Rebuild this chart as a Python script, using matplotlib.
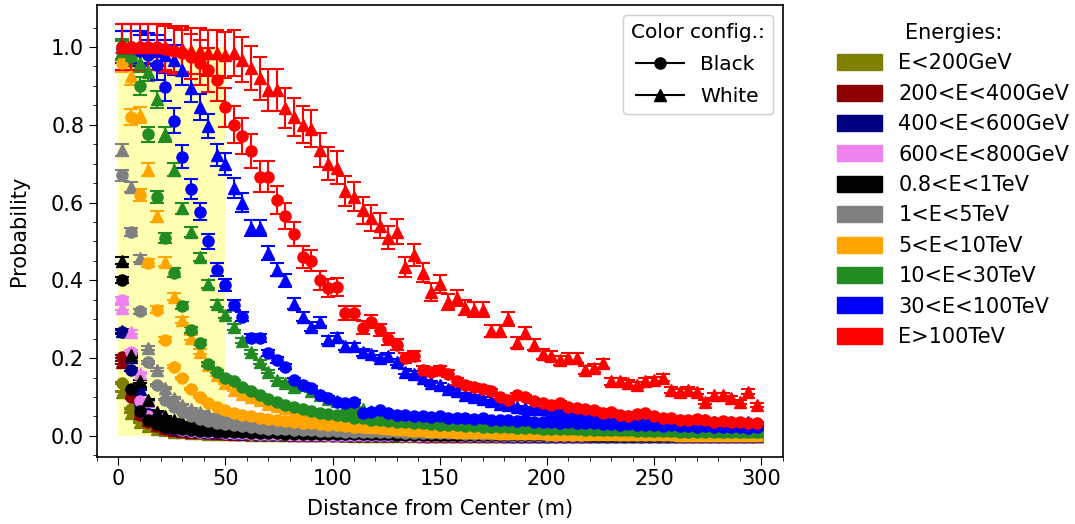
import matplotlib.pyplot as plt
import numpy as np
from matplotlib.patches import Patch
from matplotlib.lines import Line2D

# bin centres (m)
dist = np.arange(2, 300, 4)

energies = ["E<200GeV", "200<E<400GeV", "400<E<600GeV", "600<E<800GeV",
            "0.8<E<1TeV", "1<E<5TeV", "5<E<10TeV", "10<E<30TeV",
            "30<E<100TeV", "E>100TeV"]
colors = ["olive", "darkred", "navy", "violet", "black", "gray",
          "orange", "forestgreen", "blue", "red"]

# "Black" colour configuration (circles)
bk_olive = [0.136, 0.07, 0.04, 0.028, 0.02, 0.015, 0.012, 0.01, 0.008, 0.007,
            0.006, 0.005, 0.005, 0.004, 0.004, 0.003, 0.003, 0.003, 0.003, 0.002,
            0.002, 0.002, 0.002, 0.002, 0.002, 0.002, 0.001, 0.001, 0.001, 0.001,
            0.001, 0.001, 0.001, 0.001, 0.001, 0.001, 0.001, 0.001, 0.001, 0.001,
            0.001, 0.001, 0.001, 0.001, 0.001, 0.001, 0.001, 0.001, 0.001, 0.001,
            0.001, 0.001, 0.001, 0.001, 0.001, 0.001, 0.001, 0.001, 0.001, 0.001,
            0.001, 0.001, 0.001, 0.001, 0.001, 0.001, 0.001, 0.001, 0.001, 0.001,
            0.001, 0.001, 0.001, 0.001, 0.001]
bk_dred = [0.204, 0.10, 0.055, 0.035, 0.025, 0.019, 0.015, 0.012, 0.01, 0.009,
           0.008, 0.007, 0.006, 0.006, 0.005, 0.005, 0.004, 0.004, 0.004, 0.003,
           0.003, 0.003, 0.003, 0.003, 0.002, 0.002, 0.002, 0.002, 0.002, 0.002,
           0.002, 0.002, 0.002, 0.002, 0.001, 0.001, 0.001, 0.001, 0.001, 0.001,
           0.001, 0.001, 0.001, 0.001, 0.001, 0.001, 0.001, 0.001, 0.001, 0.001,
           0.001, 0.001, 0.001, 0.001, 0.001, 0.001, 0.001, 0.001, 0.001, 0.001,
           0.001, 0.001, 0.001, 0.001, 0.001, 0.001, 0.001, 0.001, 0.001, 0.001,
           0.001, 0.001, 0.001, 0.001, 0.001]
bk_navy = [0.268, 0.17, 0.08, 0.045, 0.032, 0.024, 0.019, 0.015, 0.012, 0.011,
           0.01, 0.009, 0.008, 0.007, 0.006, 0.006, 0.005, 0.005, 0.005, 0.004,
           0.004, 0.004, 0.003, 0.003, 0.003, 0.003, 0.003, 0.003, 0.002, 0.002,
           0.002, 0.002, 0.002, 0.002, 0.002, 0.002, 0.002, 0.002, 0.002, 0.001,
           0.001, 0.001, 0.001, 0.001, 0.001, 0.001, 0.001, 0.001, 0.001, 0.001,
           0.001, 0.001, 0.001, 0.001, 0.001, 0.001, 0.001, 0.001, 0.001, 0.001,
           0.001, 0.001, 0.001, 0.001, 0.001, 0.001, 0.001, 0.001, 0.001, 0.001,
           0.001, 0.001, 0.001, 0.001, 0.001]
bk_violet = [0.35, 0.217, 0.09, 0.05, 0.035, 0.026, 0.02, 0.016, 0.013, 0.011,
             0.01, 0.009, 0.008, 0.007, 0.007, 0.006, 0.006, 0.005, 0.005, 0.005,
             0.004, 0.004, 0.004, 0.004, 0.003, 0.003, 0.003, 0.003, 0.003, 0.003,
             0.003, 0.002, 0.002, 0.002, 0.002, 0.002, 0.002, 0.002, 0.002, 0.002,
             0.002, 0.002, 0.002, 0.002, 0.002, 0.002, 0.002, 0.002, 0.002, 0.002,
             0.002, 0.002, 0.002, 0.002, 0.002, 0.002, 0.002, 0.002, 0.002, 0.002,
             0.002, 0.002, 0.002, 0.002, 0.002, 0.002, 0.002, 0.002, 0.002, 0.002,
             0.002, 0.002, 0.002, 0.002, 0.002]
bk_black = [0.40, 0.12, 0.065, 0.042, 0.03, 0.024, 0.02, 0.017, 0.015, 0.013,
            0.012, 0.011, 0.01, 0.009, 0.009, 0.008, 0.008, 0.007, 0.007, 0.006,
            0.006, 0.006, 0.005, 0.005, 0.005, 0.005, 0.004, 0.004, 0.004, 0.004,
            0.004, 0.004, 0.003, 0.003, 0.003, 0.003, 0.003, 0.003, 0.003, 0.003,
            0.003, 0.003, 0.003, 0.002, 0.002, 0.002, 0.002, 0.002, 0.002, 0.002,
            0.002, 0.002, 0.002, 0.002, 0.002, 0.002, 0.002, 0.002, 0.002, 0.002,
            0.002, 0.002, 0.002, 0.002, 0.002, 0.002, 0.002, 0.002, 0.002, 0.002,
            0.002, 0.002, 0.002, 0.002, 0.002]
bk_gray = [0.67, 0.525, 0.32, 0.19, 0.13, 0.093, 0.075, 0.062, 0.05, 0.043,
           0.038, 0.034, 0.03, 0.027, 0.025, 0.023, 0.021, 0.019, 0.018, 0.017,
           0.016, 0.015, 0.014, 0.013, 0.013, 0.012, 0.011, 0.011, 0.01, 0.01,
           0.009, 0.009, 0.009, 0.008, 0.008, 0.008, 0.007, 0.007, 0.007, 0.007,
           0.006, 0.006, 0.006, 0.006, 0.006, 0.005, 0.005, 0.005, 0.005, 0.005,
           0.005, 0.004, 0.004, 0.004, 0.004, 0.004, 0.004, 0.004, 0.003, 0.003,
           0.003, 0.003, 0.003, 0.003, 0.003, 0.003, 0.003, 0.003, 0.002, 0.002,
           0.002, 0.002, 0.002, 0.002, 0.002]
bk_orange = [0.96, 0.82, 0.62, 0.445, 0.325, 0.247, 0.178, 0.149, 0.121, 0.101,
             0.085, 0.075, 0.067, 0.06, 0.055, 0.05, 0.047, 0.044, 0.041, 0.038,
             0.036, 0.034, 0.032, 0.03, 0.028, 0.027, 0.025, 0.024, 0.023, 0.022,
             0.021, 0.02, 0.019, 0.018, 0.017, 0.016, 0.016, 0.015, 0.014, 0.014,
             0.013, 0.013, 0.012, 0.012, 0.011, 0.011, 0.01, 0.01, 0.01, 0.009,
             0.009, 0.009, 0.008, 0.008, 0.008, 0.008, 0.007, 0.007, 0.007, 0.007,
             0.006, 0.006, 0.006, 0.006, 0.006, 0.005, 0.005, 0.005, 0.005, 0.005,
             0.005, 0.004, 0.004, 0.004, 0.004]
bk_green = [0.995, 0.975, 0.90, 0.775, 0.615, 0.51, 0.42, 0.335, 0.272, 0.24,
            0.185, 0.165, 0.15, 0.14, 0.125, 0.115, 0.105, 0.095, 0.088, 0.08,
            0.075, 0.07, 0.065, 0.06, 0.056, 0.053, 0.05, 0.047, 0.045, 0.042,
            0.04, 0.038, 0.036, 0.035, 0.033, 0.032, 0.03, 0.029, 0.028, 0.027,
            0.026, 0.025, 0.024, 0.023, 0.022, 0.022, 0.021, 0.02, 0.02, 0.019,
            0.018, 0.018, 0.017, 0.017, 0.016, 0.016, 0.015, 0.015, 0.014, 0.014,
            0.013, 0.013, 0.012, 0.012, 0.012, 0.011, 0.011, 0.011, 0.01, 0.01,
            0.01, 0.01, 0.009, 0.009, 0.009]
bk_blue = [1.0, 1.0, 0.99, 0.98, 0.954, 0.898, 0.81, 0.718, 0.635, 0.577,
           0.50, 0.427, 0.388, 0.337, 0.307, 0.252, 0.252, 0.213, 0.195, 0.178,
           0.144, 0.131, 0.123, 0.105, 0.098, 0.088, 0.085, 0.088, 0.059, 0.062,
           0.067, 0.059, 0.054, 0.055, 0.052, 0.05, 0.048, 0.05, 0.045, 0.047,
           0.046, 0.043, 0.045, 0.042, 0.04, 0.041, 0.038, 0.04, 0.037, 0.036,
           0.035, 0.034, 0.036, 0.033, 0.032, 0.033, 0.03, 0.031, 0.029, 0.03,
           0.028, 0.029, 0.027, 0.026, 0.028, 0.025, 0.026, 0.024, 0.025, 0.023,
           0.024, 0.022, 0.023, 0.021, 0.022]
bk_red = [1.0, 1.0, 1.0, 1.0, 1.0, 0.995, 0.99, 0.985, 0.975, 0.96,
          0.94, 0.915, 0.845, 0.80, 0.77, 0.733, 0.667, 0.667, 0.607, 0.566,
          0.52, 0.46, 0.45, 0.40, 0.38, 0.384, 0.316, 0.316, 0.278, 0.294,
          0.272, 0.25, 0.234, 0.20, 0.205, 0.17, 0.165, 0.17, 0.16, 0.14,
          0.13, 0.125, 0.12, 0.115, 0.10, 0.093, 0.105, 0.10, 0.09, 0.085,
          0.08, 0.085, 0.075, 0.072, 0.07, 0.067, 0.06, 0.062, 0.054, 0.05,
          0.056, 0.059, 0.05, 0.047, 0.045, 0.042, 0.041, 0.043, 0.041, 0.036,
          0.039, 0.035, 0.036, 0.033, 0.033]

# "White" colour configuration (triangles)
wt_olive = [0.114, 0.06, 0.035, 0.025, 0.018, 0.014, 0.011, 0.009, 0.008, 0.007,
            0.006, 0.005, 0.005, 0.004, 0.004, 0.003, 0.003, 0.003, 0.003, 0.002,
            0.002, 0.002, 0.002, 0.002, 0.002, 0.002, 0.002, 0.001, 0.001, 0.001,
            0.001, 0.001, 0.001, 0.001, 0.001, 0.001, 0.001, 0.001, 0.001, 0.001,
            0.001, 0.001, 0.001, 0.001, 0.001, 0.001, 0.001, 0.001, 0.001, 0.001,
            0.001, 0.001, 0.001, 0.001, 0.001, 0.001, 0.001, 0.001, 0.001, 0.001,
            0.001, 0.001, 0.001, 0.001, 0.001, 0.001, 0.001, 0.001, 0.001, 0.001,
            0.001, 0.001, 0.001, 0.001, 0.001]
wt_dred = [0.19, 0.11, 0.06, 0.04, 0.028, 0.021, 0.016, 0.013, 0.011, 0.01,
           0.009, 0.008, 0.007, 0.006, 0.006, 0.005, 0.005, 0.004, 0.004, 0.004,
           0.003, 0.003, 0.003, 0.003, 0.003, 0.002, 0.002, 0.002, 0.002, 0.002,
           0.002, 0.002, 0.002, 0.002, 0.002, 0.001, 0.001, 0.001, 0.001, 0.001,
           0.001, 0.001, 0.001, 0.001, 0.001, 0.001, 0.001, 0.001, 0.001, 0.001,
           0.001, 0.001, 0.001, 0.001, 0.001, 0.001, 0.001, 0.001, 0.001, 0.001,
           0.001, 0.001, 0.001, 0.001, 0.001, 0.001, 0.001, 0.001, 0.001, 0.001,
           0.001, 0.001, 0.001, 0.001, 0.001]
wt_navy = [0.27, 0.204, 0.12, 0.065, 0.04, 0.03, 0.023, 0.018, 0.015, 0.013,
           0.011, 0.01, 0.009, 0.008, 0.007, 0.007, 0.006, 0.006, 0.005, 0.005,
           0.005, 0.004, 0.004, 0.004, 0.004, 0.003, 0.003, 0.003, 0.003, 0.003,
           0.003, 0.002, 0.002, 0.002, 0.002, 0.002, 0.002, 0.002, 0.002, 0.002,
           0.002, 0.002, 0.002, 0.002, 0.002, 0.001, 0.001, 0.001, 0.001, 0.001,
           0.001, 0.001, 0.001, 0.001, 0.001, 0.001, 0.001, 0.001, 0.001, 0.001,
           0.001, 0.001, 0.001, 0.001, 0.001, 0.001, 0.001, 0.001, 0.001, 0.001,
           0.001, 0.001, 0.001, 0.001, 0.001]
wt_violet = [0.33, 0.268, 0.162, 0.09, 0.055, 0.04, 0.03, 0.024, 0.02, 0.017,
             0.015, 0.013, 0.012, 0.011, 0.01, 0.009, 0.008, 0.008, 0.007, 0.007,
             0.006, 0.006, 0.006, 0.005, 0.005, 0.005, 0.005, 0.004, 0.004, 0.004,
             0.004, 0.004, 0.004, 0.003, 0.003, 0.003, 0.003, 0.003, 0.003, 0.003,
             0.003, 0.003, 0.003, 0.003, 0.002, 0.002, 0.002, 0.002, 0.002, 0.002,
             0.002, 0.002, 0.002, 0.002, 0.002, 0.002, 0.002, 0.002, 0.002, 0.002,
             0.002, 0.002, 0.002, 0.002, 0.002, 0.002, 0.002, 0.002, 0.002, 0.002,
             0.002, 0.002, 0.002, 0.002, 0.002]
wt_black = [0.45, 0.208, 0.14, 0.093, 0.062, 0.05, 0.042, 0.036, 0.032, 0.028,
            0.025, 0.023, 0.021, 0.019, 0.018, 0.017, 0.016, 0.015, 0.014, 0.013,
            0.012, 0.012, 0.011, 0.011, 0.01, 0.01, 0.009, 0.009, 0.009, 0.008,
            0.008, 0.008, 0.007, 0.007, 0.007, 0.007, 0.006, 0.006, 0.006, 0.006,
            0.006, 0.005, 0.005, 0.005, 0.005, 0.005, 0.005, 0.004, 0.004, 0.004,
            0.004, 0.004, 0.004, 0.004, 0.004, 0.003, 0.003, 0.003, 0.003, 0.003,
            0.003, 0.003, 0.003, 0.003, 0.003, 0.003, 0.002, 0.002, 0.002, 0.002,
            0.002, 0.002, 0.002, 0.002, 0.002]
wt_gray = [0.735, 0.64, 0.457, 0.226, 0.17, 0.123, 0.098, 0.08, 0.07, 0.062,
           0.056, 0.05, 0.046, 0.043, 0.04, 0.037, 0.035, 0.033, 0.031, 0.03,
           0.028, 0.027, 0.026, 0.025, 0.024, 0.023, 0.022, 0.021, 0.02, 0.02,
           0.019, 0.018, 0.018, 0.017, 0.017, 0.016, 0.016, 0.015, 0.015, 0.014,
           0.014, 0.014, 0.013, 0.013, 0.013, 0.012, 0.012, 0.012, 0.011, 0.011,
           0.011, 0.011, 0.01, 0.01, 0.01, 0.01, 0.01, 0.009, 0.009, 0.009,
           0.009, 0.009, 0.008, 0.008, 0.008, 0.008, 0.008, 0.008, 0.007, 0.007,
           0.007, 0.007, 0.007, 0.007, 0.007]
wt_orange = [0.99, 0.925, 0.825, 0.685, 0.565, 0.448, 0.358, 0.298, 0.252, 0.217,
             0.183, 0.157, 0.136, 0.118, 0.107, 0.10, 0.093, 0.082, 0.078, 0.072,
             0.062, 0.055, 0.05, 0.046, 0.04, 0.036, 0.03, 0.028, 0.026, 0.024,
             0.022, 0.02, 0.019, 0.017, 0.015, 0.014, 0.013, 0.012, 0.012, 0.011,
             0.01, 0.01, 0.009, 0.009, 0.008, 0.008, 0.008, 0.007, 0.007, 0.007,
             0.006, 0.006, 0.006, 0.006, 0.005, 0.005, 0.005, 0.005, 0.005, 0.004,
             0.004, 0.004, 0.004, 0.004, 0.004, 0.003, 0.003, 0.003, 0.003, 0.003,
             0.003, 0.003, 0.003, 0.002, 0.002]
wt_green = [0.99, 0.98, 0.96, 0.935, 0.865, 0.775, 0.685, 0.585, 0.525, 0.46,
            0.39, 0.34, 0.31, 0.28, 0.245, 0.215, 0.19, 0.165, 0.145, 0.135,
            0.125, 0.13, 0.115, 0.105, 0.095, 0.09, 0.075, 0.072, 0.068, 0.065,
            0.058, 0.054, 0.05, 0.047, 0.045, 0.043, 0.04, 0.038, 0.036, 0.035,
            0.033, 0.032, 0.03, 0.03, 0.028, 0.027, 0.026, 0.027, 0.025, 0.024,
            0.023, 0.024, 0.022, 0.021, 0.02, 0.021, 0.019, 0.02, 0.018, 0.019,
            0.017, 0.018, 0.016, 0.017, 0.015, 0.016, 0.015, 0.014, 0.015, 0.014,
            0.013, 0.014, 0.012, 0.013, 0.012]
wt_blue = [1.0, 1.0, 1.0, 0.995, 0.99, 0.98, 0.967, 0.94, 0.895, 0.846,
           0.797, 0.722, 0.70, 0.638, 0.60, 0.535, 0.535, 0.47, 0.427, 0.40,
           0.34, 0.307, 0.281, 0.294, 0.247, 0.255, 0.23, 0.23, 0.215, 0.21,
           0.20, 0.205, 0.19, 0.165, 0.16, 0.15, 0.135, 0.13, 0.12, 0.115,
           0.105, 0.10, 0.095, 0.09, 0.082, 0.08, 0.075, 0.072, 0.07, 0.068,
           0.065, 0.062, 0.06, 0.058, 0.055, 0.056, 0.052, 0.05, 0.048, 0.05,
           0.046, 0.045, 0.047, 0.042, 0.04, 0.042, 0.038, 0.036, 0.04, 0.035,
           0.034, 0.036, 0.033, 0.035, 0.03]
wt_red = [1.0, 1.0, 1.0, 1.0, 1.0, 1.0, 0.995, 0.995, 0.99, 0.99,
          0.985, 0.985, 0.98, 0.985, 0.967, 0.946, 0.92, 0.89, 0.89, 0.843,
          0.82, 0.80, 0.79, 0.735, 0.70, 0.69, 0.63, 0.615, 0.58, 0.56,
          0.54, 0.51, 0.525, 0.435, 0.465, 0.42, 0.37, 0.39, 0.345, 0.355,
          0.33, 0.325, 0.325, 0.27, 0.27, 0.30, 0.24, 0.265, 0.235, 0.21,
          0.205, 0.195, 0.20, 0.20, 0.17, 0.175, 0.187, 0.14, 0.14, 0.136,
          0.131, 0.14, 0.144, 0.149, 0.118, 0.114, 0.118, 0.114, 0.088, 0.105,
          0.105, 0.098, 0.088, 0.114, 0.08]

black_sets = [bk_olive, bk_dred, bk_navy, bk_violet, bk_black,
              bk_gray, bk_orange, bk_green, bk_blue, bk_red]
white_sets = [wt_olive, wt_dred, wt_navy, wt_violet, wt_black,
              wt_gray, wt_orange, wt_green, wt_blue, wt_red]
# relative statistical error per energy bin
rel_err = [0.02, 0.02, 0.02, 0.02, 0.02, 0.02, 0.025, 0.025, 0.04, 0.06]

fig = plt.figure(figsize=(10.75, 5.24), dpi=100)
ax = fig.add_axes([0.090, 0.128, 0.638, 0.8625])

ax.fill_between([0, 50], 0, 1, color="yellow", alpha=0.3, lw=0, zorder=0)

for c, r, yb, yw in zip(colors, rel_err, black_sets, white_sets):
    yb = np.array(yb)
    yw = np.array(yw)
    ax.errorbar(dist, yb, yerr=r * yb, fmt="o", color=c, ms=8,
                capsize=5, elinewidth=1.5, capthick=1.5)
    ax.errorbar(dist, yw, yerr=r * yw, fmt="^", color=c, ms=8,
                capsize=5, elinewidth=1.5, capthick=1.5)

ax.set_xlim(-9.8, 309.7)
ax.set_ylim(-0.054, 1.108)
ax.set_xlabel("Distance from Center (m)", fontsize=15, labelpad=7)
ax.set_ylabel("Probability", fontsize=15, labelpad=16)
ax.tick_params(labelsize=15)
ax.tick_params(which="major", length=5.5)
ax.tick_params(which="minor", length=3)
ax.minorticks_on()
ax.set_xticks(np.arange(-10, 311, 10), minor=True)
ax.set_yticks(np.arange(-0.05, 1.1, 0.05), minor=True)
for s in ax.spines.values():
    s.set_linewidth(1.2)

cfg_handles = [Line2D([], [], color="k", marker="o", ms=8, lw=1.5, label="Black"),
               Line2D([], [], color="k", marker="^", ms=8, lw=1.5, label="White")]
leg1 = ax.legend(handles=cfg_handles, title="Color config.:", loc="upper right",
                 fontsize=14.5, title_fontsize=14.5, handlelength=2.4,
                 labelspacing=0.65)
ax.add_artist(leg1)

e_handles = [Patch(color=c, label=l) for c, l in zip(colors, energies)]
fig.legend(handles=e_handles, title="Energies:", loc="upper left",
           bbox_to_anchor=(0.761, 0.992), frameon=False, fontsize=15,
           title_fontsize=15, handlelength=2.16, handleheight=0.8,
           labelspacing=0.5)

fig.savefig("out.png", dpi=100)
